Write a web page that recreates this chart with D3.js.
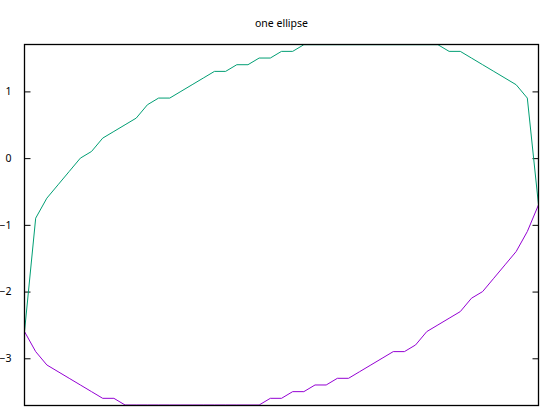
<!DOCTYPE html>
<html>
<head>
<meta charset="utf-8">
<script src="https://cdn.jsdelivr.net/npm/d3@7"></script>
<style>
  body { margin: 0; background: #fff; }
  svg { display: block; font-family: "Noto Sans", "Open Sans", sans-serif; }
</style>
</head>
<body>
<svg id="chart" width="554" height="416"></svg>
<script>
// sample positions along x (no x tics are drawn in the original)
var xs = [0, 1, 2, 3, 4, 5, 6, 7, 8, 9, 10, 11, 12, 13, 14, 15, 16, 17, 18, 19, 20, 21, 22, 23,
  24, 25, 26, 27, 28, 29, 30, 31, 32, 33, 34, 35, 36, 37, 38, 39, 40, 41, 42, 43, 44, 45, 46];
var upper = [-2.6, -0.9, -0.6, -0.4, -0.2, 0.0, 0.1, 0.3, 0.4, 0.5, 0.6, 0.8, 0.9, 0.9, 1.0, 1.1,
  1.2, 1.3, 1.3, 1.4, 1.4, 1.5, 1.5, 1.6, 1.6, 1.7, 1.7, 1.7, 1.7, 1.7, 1.7, 1.7, 1.7, 1.7, 1.7,
  1.7, 1.7, 1.7, 1.6, 1.6, 1.5, 1.4, 1.3, 1.2, 1.1, 0.9, -0.7];
var lower = [-2.6, -2.9, -3.1, -3.2, -3.3, -3.4, -3.5, -3.6, -3.6, -3.7, -3.7, -3.7, -3.7, -3.7,
  -3.7, -3.7, -3.7, -3.7, -3.7, -3.7, -3.7, -3.7, -3.6, -3.6, -3.5, -3.5, -3.4, -3.4, -3.3, -3.3,
  -3.2, -3.1, -3.0, -2.9, -2.9, -2.8, -2.6, -2.5, -2.4, -2.3, -2.1, -2.0, -1.8, -1.6, -1.4, -1.1, -0.7];
var yTicks = [1, 0, -1, -2, -3];
var title = 'one ellipse';

(function() {
  var svg = d3.select('#chart');
  var plotLeft = 24.5, plotRight = 538.5, plotTop = 44.5, plotBottom = 405.5;

  var x = d3.scaleLinear().domain([0, 46]).range([plotLeft, plotRight]);
  // lines sit half a pixel off the grid, like the cairo output
  var y = d3.scaleLinear().domain([-3.7, 1.7]).range([405, 44.7]);

  svg.append('defs').append('clipPath').attr('id', 'plotclip')
    .append('rect')
    .attr('x', plotLeft).attr('y', plotTop - 1)
    .attr('width', plotRight - plotLeft).attr('height', plotBottom - plotTop + 2);

  // left tics + labels, ticks pointing inward
  var yAxis = svg.append('g')
    .attr('transform', 'translate(' + plotLeft + ',0)')
    .call(d3.axisLeft(y).tickValues(yTicks).tickSizeInner(-6).tickSizeOuter(0).tickPadding(13)
      .tickFormat(d3.format('d')));
  yAxis.select('.domain').remove();
  yAxis.selectAll('line').attr('stroke', '#000');
  yAxis.selectAll('text').attr('font-size', '10.5px').attr('fill', '#000')
    .attr('font-family', '"Noto Sans", sans-serif');

  // mirrored tics on the right
  var yAxisR = svg.append('g')
    .attr('transform', 'translate(' + plotRight + ',0)')
    .call(d3.axisRight(y).tickValues(yTicks).tickSizeInner(-6).tickSizeOuter(0).tickFormat(''));
  yAxisR.select('.domain').remove();
  yAxisR.selectAll('line').attr('stroke', '#000');

  var line = d3.line()
    .x(function(d) { return x(d[0]); })
    .y(function(d) { return y(d[1]); });

  var plot = svg.append('g').attr('clip-path', 'url(#plotclip)');

  plot.append('path')
    .datum(xs.map(function(v, i) { return [v, upper[i]]; }))
    .attr('d', line)
    .attr('fill', 'none')
    .attr('stroke', '#009e73')
    .attr('stroke-width', 1);

  plot.append('path')
    .datum(xs.map(function(v, i) { return [v, lower[i]]; }))
    .attr('d', line)
    .attr('fill', 'none')
    .attr('stroke', '#9400d3')
    .attr('stroke-width', 1);

  // border
  svg.append('rect')
    .attr('x', plotLeft).attr('y', plotTop)
    .attr('width', plotRight - plotLeft).attr('height', plotBottom - plotTop)
    .attr('fill', 'none')
    .attr('stroke', '#000')
    .attr('stroke-width', 1.3);

  svg.append('text')
    .attr('x', (plotLeft + plotRight) / 2)
    .attr('y', 27)
    .attr('text-anchor', 'middle')
    .attr('font-size', '10.5px')
    .attr('fill', '#000')
    .text(title);
})();
</script>
</body>
</html>
